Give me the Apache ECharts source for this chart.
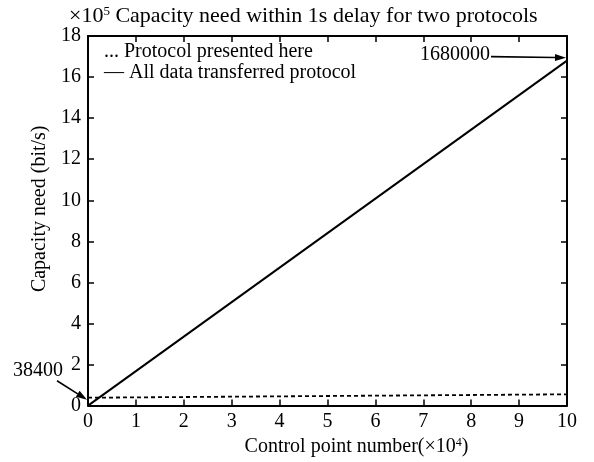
<!DOCTYPE html>
<html>
<head>
<meta charset="utf-8">
<script src="https://cdn.jsdelivr.net/npm/echarts@6/dist/echarts.min.js"></script>
<style>html,body{margin:0;padding:0;background:#fff}#c{width:594px;height:462px}</style>
</head>
<body>
<div id="c"></div>
<script>
// Data (x in ×10^4 control points, y in ×10^5 bit/s)
const xVals = [0, 10];
const presentedProtocol = [0.384, 0.55];
const allDataProtocol = [0, 16.8];
const seriesNames = ['Protocol presented here', 'All data transferred protocol'];
const legendMarks = ['...', '—'];
const annStart = [0, 0.384];   // 38400 bit/s
const annEnd = [10, 16.8];     // 1680000 bit/s
const annStartLabel = '38400';
const annEndLabel = '1680000';

const FONT = 'Liberation Serif';
const FS = 20;
const chart = echarts.init(document.getElementById('c'));

function tick() { return {show: true, inside: true, length: 6, lineStyle: {color: '#000', width: 1.5}}; }
function axLine() { return {show: true, onZero: false, lineStyle: {color: '#000', width: 2}}; }

chart.setOption({
  animation: false,
  backgroundColor: '#fff',
  title: {
    text: '{a|×10}{s|5}{a| Capacity need within 1s delay for two protocols}',
    left: 64, top: 0,
    textStyle: {fontWeight: 'normal', rich: {
      a: {fontFamily: FONT, fontSize: 22, color: '#000', fontWeight: 'normal'},
      s: {fontFamily: FONT, fontSize: 13, color: '#000', fontWeight: 'normal', verticalAlign: 'top', padding: [0,0,10,0]}
    }}
  },
  grid: {left: 88, right: 27, top: 36, bottom: 52},
  xAxis: [{
    type: 'value', min: 0, max: 10, interval: 1, position: 'bottom',
    name: '{a|Control point number(×10}{s|4}{a|)}',
    nameLocation: 'middle', nameGap: 22,
    nameTextStyle: {padding: [0, 0, 0, 58], rich: {
      a: {fontFamily: FONT, fontSize: FS, color: '#000'},
      s: {fontFamily: FONT, fontSize: 12, color: '#000', verticalAlign: 'top', padding: [0,0,9,0]}
    }},
    axisLine: axLine(), axisTick: tick(), splitLine: {show: false},
    axisLabel: {fontFamily: FONT, fontSize: FS, color: '#000', margin: 6}
  }, {
    type: 'value', min: 0, max: 10, interval: 1, position: 'top',
    axisLine: axLine(), axisTick: tick(), splitLine: {show: false},
    axisLabel: {show: false}
  }],
  yAxis: [{
    type: 'value', min: 0, max: 18, interval: 2, position: 'left',
    name: 'Capacity need (bit/s)', nameLocation: 'middle', nameGap: 36,
    nameTextStyle: {fontFamily: FONT, fontSize: FS, color: '#000', padding: [0, 0, 0, 24]},
    axisLine: axLine(), axisTick: tick(), splitLine: {show: false},
    axisLabel: {fontFamily: FONT, fontSize: FS, color: '#000', margin: 7}
  }, {
    type: 'value', min: 0, max: 18, interval: 2, position: 'right',
    axisLine: axLine(), axisTick: tick(), splitLine: {show: false},
    axisLabel: {show: false}
  }],
  series: [{
    name: seriesNames[0], type: 'line', symbol: 'none',
    data: xVals.map((x, i) => [x, presentedProtocol[i]]),
    lineStyle: {color: '#000', width: 1.8, type: [4, 3]},
    itemStyle: {color: '#000'}
  }, {
    name: seriesNames[1], type: 'line', symbol: 'none',
    data: xVals.map((x, i) => [x, allDataProtocol[i]]),
    lineStyle: {color: '#000', width: 2},
    itemStyle: {color: '#000'}
  }]
});

function arrow(from, to) {
  const dx = to[0] - from[0], dy = to[1] - from[1];
  const L = Math.hypot(dx, dy), ux = dx / L, uy = dy / L;
  const hl = 11, hw = 3.5;
  const bx = to[0] - ux * hl, by = to[1] - uy * hl;
  return [{
    type: 'line', shape: {x1: from[0], y1: from[1], x2: bx, y2: by},
    style: {stroke: '#000', lineWidth: 1.6}
  }, {
    type: 'polygon',
    shape: {points: [to, [bx - uy * hw, by + ux * hw], [bx + uy * hw, by - ux * hw]]},
    style: {fill: '#000'}
  }];
}

const font = FS + 'px "' + FONT + '"';
const pS = chart.convertToPixel({xAxisIndex: 0, yAxisIndex: 0}, annStart);
const pE = chart.convertToPixel({xAxisIndex: 0, yAxisIndex: 0}, annEnd);
const g = [];
g.push(...arrow([pS[0] - 31, pS[1] - 17], [pS[0] - 1, pS[1] + 2]));
g.push({type: 'text', style: {text: annStartLabel, x: pS[0] - 25, y: pS[1] - 27,
  align: 'right', verticalAlign: 'middle', font: font, fill: '#000'}});
g.push(...arrow([pE[0] - 76, pE[1] - 4], [pE[0] - 1, pE[1] - 3]));
g.push({type: 'text', style: {text: annEndLabel, x: pE[0] - 77, y: pE[1] - 6,
  align: 'right', verticalAlign: 'middle', font: font, fill: '#000'}});
// legend (drawn as in the original: text marks before the names)
const lg = [[104, 52], [104, 73]];
seriesNames.forEach((n, i) => {
  g.push({type: 'text', style: {text: legendMarks[i] + ' ' + n, x: lg[i][0], y: lg[i][1],
    align: 'left', verticalAlign: 'middle', font: font, fill: '#000'}});
});
chart.setOption({graphic: g});
</script>
</body>
</html>
